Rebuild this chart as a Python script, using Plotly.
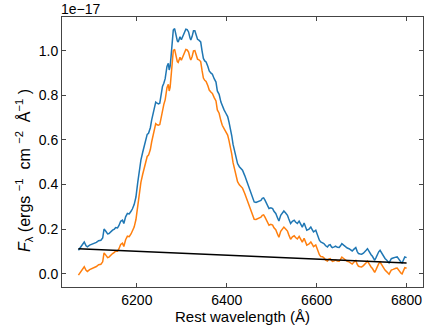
import plotly.graph_objects as go

# Wavelength grid (Angstrom) and fluxes in units of 1e-17 erg s^-1 cm^-2 A^-1
wave = [6070, 6075, 6080, 6083, 6087, 6090, 6095, 6100, 6105, 6110, 6115, 6120, 6124, 6127, 6131, 6135,
        6138, 6142, 6146, 6150, 6153, 6157, 6160, 6164, 6168, 6171, 6175, 6179, 6183, 6187, 6190, 6194,
        6198, 6202, 6205, 6209, 6213, 6217, 6220, 6223, 6226, 6230, 6233, 6236, 6239, 6242, 6245, 6248,
        6251, 6254, 6257, 6260, 6263, 6267, 6270, 6272, 6274, 6276, 6279, 6281, 6284, 6287, 6290, 6292,
        6294, 6296, 6299, 6302, 6305, 6309, 6312, 6315, 6318, 6320, 6323, 6326, 6329, 6332, 6335, 6338,
        6342, 6345, 6348, 6351, 6354, 6358, 6361, 6365, 6368, 6372, 6376, 6379, 6383, 6387, 6390, 6394,
        6398, 6402, 6405, 6408, 6411, 6414, 6417, 6420, 6424, 6428, 6432, 6435, 6440, 6446, 6450, 6453,
        6457, 6461, 6465, 6468, 6472, 6476, 6479, 6482, 6485, 6487, 6491, 6494, 6498, 6502, 6505, 6509,
        6513, 6516, 6520, 6524, 6527, 6531, 6535, 6538, 6542, 6546, 6550, 6553, 6557, 6561, 6565, 6568,
        6572, 6575, 6578, 6583, 6587, 6590, 6593, 6598, 6603, 6606, 6609, 6613, 6616, 6620, 6624, 6627,
        6630, 6633, 6635, 6639, 6642, 6646, 6650, 6653, 6656, 6660, 6664, 6668, 6672, 6676, 6679, 6683,
        6687, 6690, 6693, 6697, 6700, 6704, 6707, 6710, 6713, 6716, 6718, 6721, 6724, 6727, 6729, 6732,
        6735, 6738, 6741, 6745, 6748, 6752, 6756, 6759, 6761, 6764, 6766, 6770, 6772, 6776, 6779, 6782,
        6785, 6788, 6790, 6793, 6796, 6800]

flux_observed = [0.105, 0.12, 0.135, 0.142, 0.125, 0.12, 0.128, 0.132, 0.135, 0.14, 0.148, 0.15, 0.16, 0.20, 0.19, 0.178,
                 0.18, 0.19, 0.195, 0.2, 0.207, 0.205, 0.215, 0.235, 0.24, 0.225, 0.255, 0.27, 0.268, 0.28, 0.29, 0.31,
                 0.344, 0.41, 0.464, 0.51, 0.545, 0.575, 0.607, 0.625, 0.63, 0.655, 0.69, 0.72, 0.75, 0.77, 0.765, 0.762,
                 0.765, 0.8, 0.84, 0.855, 0.875, 0.93, 0.944, 0.914, 0.93, 0.973, 1.05, 1.093, 1.10, 1.07, 1.045, 1.04,
                 1.05, 1.063, 1.05, 1.065, 1.085, 1.097, 1.095, 1.085, 1.06, 1.049, 1.065, 1.09, 1.09, 1.07, 1.052, 1.048,
                 1.04, 1.0, 0.966, 0.955, 0.95, 0.93, 0.91, 0.9, 0.895, 0.875, 0.86, 0.82, 0.805, 0.77, 0.75, 0.735,
                 0.72, 0.705, 0.68, 0.655, 0.62, 0.58, 0.55, 0.52, 0.494, 0.48, 0.47, 0.464, 0.44, 0.404, 0.385, 0.367,
                 0.345, 0.322, 0.32, 0.322, 0.325, 0.329, 0.338, 0.34, 0.33, 0.322, 0.305, 0.292, 0.295, 0.292, 0.28, 0.27,
                 0.25, 0.236, 0.262, 0.275, 0.281, 0.272, 0.262, 0.245, 0.225, 0.235, 0.24, 0.232, 0.225, 0.236, 0.222, 0.209,
                 0.227, 0.21, 0.195, 0.2, 0.209, 0.198, 0.187, 0.195, 0.164, 0.15, 0.142, 0.14, 0.135, 0.125, 0.12, 0.128,
                 0.13, 0.12, 0.117, 0.12, 0.123, 0.118, 0.117, 0.125, 0.135, 0.128, 0.12, 0.115, 0.112, 0.105, 0.102, 0.11,
                 0.117, 0.1, 0.09, 0.088, 0.087, 0.092, 0.097, 0.105, 0.112, 0.1, 0.093, 0.085, 0.078, 0.065, 0.06, 0.072,
                 0.087, 0.098, 0.105, 0.09, 0.078, 0.068, 0.06, 0.052, 0.048, 0.06, 0.067, 0.07, 0.072, 0.074, 0.075, 0.065,
                 0.057, 0.05, 0.048, 0.062, 0.075, 0.072]

flux_subtracted = [-0.007, 0.008, 0.024, 0.031, 0.015, 0.010, 0.018, 0.023, 0.026, 0.032, 0.040, 0.042, 0.053, 0.093, 0.083, 0.072,
                   0.074, 0.084, 0.090, 0.095, 0.102, 0.101, 0.111, 0.131, 0.137, 0.122, 0.152, 0.168, 0.166, 0.178, 0.189, 0.209,
                   0.243, 0.310, 0.364, 0.410, 0.446, 0.476, 0.508, 0.526, 0.532, 0.557, 0.592, 0.623, 0.653, 0.673, 0.668, 0.666,
                   0.669, 0.704, 0.744, 0.760, 0.780, 0.835, 0.850, 0.820, 0.836, 0.879, 0.956, 1.000, 1.007, 0.977, 0.952, 0.948,
                   0.958, 0.971, 0.958, 0.973, 0.994, 1.006, 1.004, 0.995, 0.970, 0.959, 0.975, 1.000, 1.001, 0.981, 0.963, 0.960,
                   0.952, 0.912, 0.878, 0.868, 0.863, 0.843, 0.824, 0.814, 0.809, 0.790, 0.775, 0.735, 0.720, 0.686, 0.666, 0.651,
                   0.637, 0.622, 0.597, 0.573, 0.538, 0.498, 0.468, 0.439, 0.413, 0.399, 0.390, 0.384, 0.360, 0.325, 0.306, 0.289,
                   0.267, 0.244, 0.243, 0.245, 0.248, 0.253, 0.262, 0.264, 0.254, 0.247, 0.230, 0.217, 0.221, 0.218, 0.206, 0.197,
                   0.177, 0.163, 0.190, 0.203, 0.209, 0.200, 0.191, 0.174, 0.154, 0.165, 0.170, 0.162, 0.156, 0.167, 0.153, 0.141,
                   0.159, 0.142, 0.128, 0.133, 0.142, 0.132, 0.121, 0.129, 0.099, 0.085, 0.077, 0.076, 0.071, 0.061, 0.057, 0.065,
                   0.067, 0.057, 0.055, 0.058, 0.061, 0.057, 0.056, 0.064, 0.074, 0.068, 0.060, 0.055, 0.053, 0.046, 0.043, 0.052,
                   0.059, 0.042, 0.033, 0.031, 0.030, 0.036, 0.041, 0.049, 0.056, 0.045, 0.038, 0.030, 0.023, 0.011, 0.006, 0.018,
                   0.033, 0.045, 0.052, 0.037, 0.026, 0.016, 0.008, 0.000, -0.003, 0.009, 0.016, 0.019, 0.022, 0.024, 0.025, 0.015,
                   0.008, 0.001, -0.001, 0.013, 0.027, 0.024]

continuum_wave = [6070, 6800]
continuum_flux = [0.112, 0.048]

x_ticks = [6200, 6400, 6600, 6800]
y_ticks = [0.0, 0.2, 0.4, 0.6, 0.8, 1.0]

FONT = "Liberation Sans, Arial, sans-serif"
NB = "\u00a0"

fig = go.Figure()
fig.add_trace(go.Scatter(x=wave, y=flux_observed, mode="lines",
                         line=dict(color="#1f77b4", width=1.5), showlegend=False))
fig.add_trace(go.Scatter(x=wave, y=flux_subtracted, mode="lines",
                         line=dict(color="#ff7f0e", width=1.5), showlegend=False))
fig.add_trace(go.Scatter(x=continuum_wave, y=continuum_flux, mode="lines",
                         line=dict(color="black", width=1.5), showlegend=False))

axis_common = dict(showline=True, linecolor="#444", linewidth=1, mirror="ticks",
                   ticks="inside", ticklen=4, tickwidth=1, tickcolor="#444",
                   showgrid=False, zeroline=False, automargin=False,
                   tickfont=dict(family=FONT, size=14, color="black"))

fig.update_xaxes(range=[6033.5, 6836.5], tickvals=x_ticks, **axis_common)
fig.update_yaxes(range=[-0.060, 1.152], tickvals=y_ticks, tickformat=".1f", **axis_common)

fig.add_annotation(text="Rest wavelength (Å)", xref="paper", yref="paper", x=0.5, y=-0.108,
                   xanchor="center", yanchor="middle", showarrow=False,
                   font=dict(family=FONT, size=15, color="black"))

ylabel = ("<i>F</i><sub>λ</sub> (ergs" + NB + "<sup>−1</sup>" + NB + NB + "cm" + NB + "<sup>−2</sup>"
          + NB + NB + "Å<sup>−1</sup>" + NB + ")")
fig.add_annotation(text=ylabel, xref="paper", yref="paper", x=-0.105, y=0.43,
                   xanchor="center", yanchor="middle", textangle=-90, showarrow=False,
                   font=dict(family=FONT, size=16, color="black"))

fig.add_annotation(text="1e−17", xref="paper", yref="paper", x=0, y=1,
                   xanchor="left", yanchor="bottom", showarrow=False,
                   font=dict(family=FONT, size=14, color="black"), xshift=-3, yshift=-2)

fig.update_layout(width=436, height=327, margin=dict(l=62, r=13, t=17, b=40),
                  paper_bgcolor="white", plot_bgcolor="white",
                  font=dict(family=FONT, size=14, color="black"))

fig.write_html("out.html", config={"displayModeBar": False},
               post_script="document.body.style.margin='0px';")
